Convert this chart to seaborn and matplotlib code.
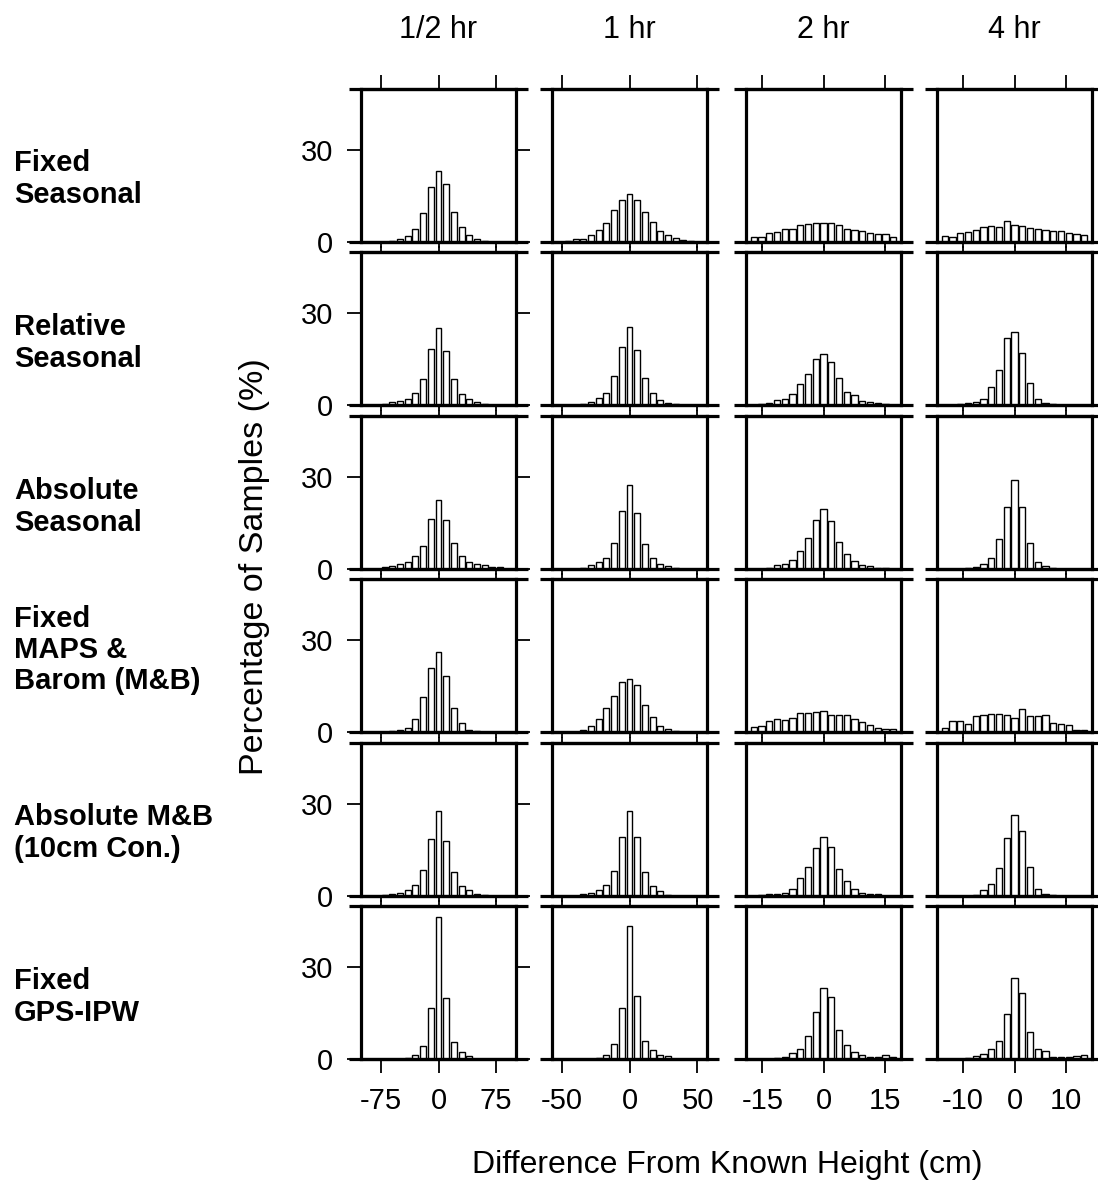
import numpy as np
import matplotlib
matplotlib.use("Agg")
import matplotlib.pyplot as plt
import seaborn as sns

# ---- panel labels -------------------------------------------------------
intervals = ["1/2 hr", "1 hr", "2 hr", "4 hr"]
methods = ["Fixed\nSeasonal", "Relative\nSeasonal", "Absolute\nSeasonal",
           "Fixed\nMAPS &\nBarom (M&B)", "Absolute M&B\n(10cm Con.)",
           "Fixed\nGPS-IPW"]

# ---- binning per averaging interval (cm) --------------------------------
bin_width = [10.0, 5.65, 1.9, 1.5]
x_half_range = [101, 57, 19, 15]
x_ticks = [[-75, 0, 75], [-50, 0, 50], [-15, 0, 15], [-10, 0, 10]]
bin_index = np.arange(-9, 10)
y_ticks = [0, 30]
y_max = 50

# ---- percentage of samples per bin (bins -9 .. +9) ----------------------
fixed_seasonal_05h = [0, 0, 0, 0.2, 0.9, 2.0, 4.1, 9.6, 18.0, 23.3, 19.1, 9.9, 4.9, 2.4, 1.1, 0.3, 0.1, 0, 0]
fixed_seasonal_1h = [0, 0.3, 0.9, 1.1, 2.2, 3.8, 6.3, 10.6, 13.8, 15.8, 13.8, 9.8, 6.5, 3.7, 2.2, 1.4, 0.8, 0.2, 0]
fixed_seasonal_2h = [1.5, 1.7, 2.8, 3.2, 4.4, 4.4, 5.7, 6.0, 6.2, 6.2, 6.2, 5.5, 4.4, 4.0, 3.7, 2.8, 2.5, 2.6, 1.7]
fixed_seasonal_4h = [2.0, 1.6, 2.9, 3.2, 3.8, 4.9, 5.1, 4.9, 6.9, 5.7, 5.3, 4.7, 4.4, 3.8, 3.5, 3.5, 2.9, 2.5, 2.2]

relative_seasonal_05h = [0, 0, 0.2, 0.9, 1.3, 2.1, 3.8, 8.5, 18.2, 25.3, 17.6, 8.4, 3.7, 1.9, 1.1, 0.3, 0, 0, 0]
relative_seasonal_1h = [0, 0, 0, 0.3, 0.9, 2.3, 3.8, 9.6, 19.0, 25.4, 18.0, 8.8, 3.8, 1.5, 0.8, 0.3, 0, 0, 0]
relative_seasonal_2h = [0, 0.4, 0.7, 1.5, 2.1, 3.5, 6.7, 10.0, 14.9, 16.6, 14.1, 8.9, 4.4, 3.2, 1.4, 0.9, 0.5, 0.2, 0]
relative_seasonal_4h = [0, 0, 0.3, 0.5, 0.9, 2.0, 5.9, 11.5, 21.8, 23.7, 17.1, 7.1, 2.0, 0.8, 0.2, 0, 0, 0, 0]

absolute_seasonal_05h = [0, 0, 0.5, 1.0, 1.6, 2.3, 4.3, 7.6, 16.3, 22.6, 16.1, 8.5, 4.2, 2.4, 1.5, 1.2, 0.8, 0.5, 0]
absolute_seasonal_1h = [0, 0, 0, 0.3, 1.3, 2.2, 3.6, 8.5, 18.9, 27.4, 18.3, 8.2, 3.6, 1.7, 0.9, 0.3, 0, 0, 0]
absolute_seasonal_2h = [0, 0, 0.4, 1.2, 1.6, 2.8, 5.8, 10.1, 16.1, 19.7, 15.7, 8.8, 5.0, 2.6, 1.4, 0.9, 0.3, 0.3, 0]
absolute_seasonal_4h = [0, 0, 0, 0.3, 0.8, 1.5, 3.7, 9.7, 20.1, 29.0, 20.4, 8.6, 2.3, 1.0, 0.3, 0, 0, 0, 0]

fixed_mb_05h = [0, 0, 0, 0.2, 0.5, 1.3, 4.3, 11.4, 20.9, 26.0, 18.4, 8.0, 2.9, 0.5, 0.3, 0, 0, 0, 0]
fixed_mb_1h = [0, 0, 0, 0.7, 1.8, 4.3, 8.0, 11.9, 16.2, 17.4, 15.3, 8.9, 4.9, 1.8, 0.9, 0.2, 0, 0, 0]
fixed_mb_2h = [1.6, 2.0, 3.6, 4.4, 3.8, 4.7, 6.3, 6.3, 6.5, 6.7, 5.7, 5.7, 5.5, 4.3, 3.4, 2.2, 1.4, 1.1, 1.0]
fixed_mb_4h = [1.4, 3.7, 3.7, 2.7, 5.2, 5.5, 6.0, 5.8, 5.5, 4.6, 7.4, 5.2, 5.1, 5.4, 3.1, 2.6, 2.3, 0.5, 0.7]

absolute_mb_05h = [0, 0, 0.3, 0.5, 1.0, 1.9, 3.6, 8.4, 18.5, 27.9, 18.1, 8.0, 3.4, 1.8, 0.8, 0.3, 0, 0, 0]
absolute_mb_1h = [0, 0, 0, 0.5, 1.0, 2.1, 3.6, 8.1, 19.2, 27.9, 19.2, 7.8, 3.4, 1.6, 0.3, 0, 0, 0, 0]
absolute_mb_2h = [0, 0.3, 0.6, 0.8, 1.1, 2.4, 5.8, 9.5, 15.6, 19.4, 16.0, 8.7, 4.9, 2.4, 1.1, 0.8, 0.5, 0, 0]
absolute_mb_4h = [0, 0, 0, 0, 0.4, 1.9, 3.8, 9.3, 18.8, 26.5, 21.2, 9.5, 2.2, 0.8, 0.3, 0, 0, 0, 0]

fixed_ipw_05h = [0, 0, 0, 0, 0, 0.3, 1.3, 4.1, 16.8, 46.3, 20.0, 5.7, 2.3, 1.1, 0, 0, 0, 0, 0]
fixed_ipw_1h = [0, 0, 0, 0, 0, 0.3, 1.4, 4.8, 16.8, 43.4, 20.5, 6.0, 2.8, 1.4, 0.9, 0, 0, 0, 0]
fixed_ipw_2h = [0, 0, 0, 0.3, 0.8, 2.1, 3.2, 7.4, 15.5, 23.1, 20.1, 9.5, 4.6, 2.4, 1.4, 0.8, 0.8, 1.4, 0.8]
fixed_ipw_4h = [0, 0, 0, 0.3, 0.9, 1.5, 3.2, 5.8, 14.8, 26.5, 21.5, 8.9, 3.3, 2.5, 0.8, 0.8, 0.8, 0.9, 1.2]

grid = [
    [fixed_seasonal_05h, fixed_seasonal_1h, fixed_seasonal_2h, fixed_seasonal_4h],
    [relative_seasonal_05h, relative_seasonal_1h, relative_seasonal_2h, relative_seasonal_4h],
    [absolute_seasonal_05h, absolute_seasonal_1h, absolute_seasonal_2h, absolute_seasonal_4h],
    [fixed_mb_05h, fixed_mb_1h, fixed_mb_2h, fixed_mb_4h],
    [absolute_mb_05h, absolute_mb_1h, absolute_mb_2h, absolute_mb_4h],
    [fixed_ipw_05h, fixed_ipw_1h, fixed_ipw_2h, fixed_ipw_4h],
]

# ---- style --------------------------------------------------------------
sns.set_theme(style="white")
plt.rcParams["font.family"] = ["Liberation Sans", "DejaVu Sans"]
plt.rcParams["axes.unicode_minus"] = False
for key in ("text.color", "axes.labelcolor", "xtick.color", "ytick.color",
            "axes.edgecolor"):
    plt.rcParams[key] = "black"

W_PX, H_PX = 1098, 1183
fig = plt.figure(figsize=(W_PX / 100, H_PX / 100), dpi=100)

col_left = [361, 552, 746, 937]
row_top = [89, 252, 416, 579, 743, 906]
panel_w, panel_h = 155, 153
label_y = [179, 343, 507, 650, 833, 997]

FS = 21
frame_lw = 2.3
ext = 12 / panel_w

for r in range(6):
    for c in range(4):
        L, T = col_left[c], row_top[r]
        ax = fig.add_axes([L / W_PX, 1 - (T + panel_h) / H_PX,
                           panel_w / W_PX, panel_h / H_PX])
        w = bin_width[c]
        centers = bin_index * w
        edges = np.append(centers - w / 2, centers[-1] + w / 2).tolist()
        sns.histplot(x=centers, weights=grid[r][c], bins=edges, shrink=0.78,
                     color="white", edgecolor="black", linewidth=1.0,
                     alpha=1, ax=ax)
        ax.set_xlim(-x_half_range[c], x_half_range[c])
        ax.set_ylim(0, y_max)
        ax.set_xlabel("")
        ax.set_ylabel("")
        ax.set_facecolor("white")
        for sp in ax.spines.values():
            sp.set_visible(True)
            sp.set_color("black")
            sp.set_linewidth(frame_lw)

        # frame lines running past the box into the gaps
        for yv in (0, 1):
            ax.plot([-ext, 1 + ext], [yv, yv], transform=ax.transAxes,
                    color="black", lw=frame_lw, clip_on=False,
                    solid_capstyle="butt")

        # x ticks on both edges of every panel
        ax.set_xticks(x_ticks[c])
        ax.set_xticklabels([str(v) for v in x_ticks[c]])
        bottom_len = 10 if r == 5 else 4.5
        ax.tick_params(axis="x", which="major", direction="out",
                       top=True, bottom=True, length=bottom_len, width=1.3,
                       color="black", labelcolor="black",
                       labelbottom=(r == 5), labeltop=False,
                       labelsize=FS, pad=10)
        for t in ax.xaxis.get_major_ticks():
            t.tick2line.set_markersize(10 if r == 0 else 4.5)

        # y ticks only on the first column
        ax.set_yticks(y_ticks)
        if c == 0:
            ax.set_yticklabels([str(v) for v in y_ticks])
            ax.tick_params(axis="y", which="major", direction="out",
                           left=True, right=True, length=10, width=1.3,
                           color="black", labelcolor="black",
                           labelleft=True, labelright=False,
                           labelsize=FS, pad=10)
        else:
            ax.tick_params(axis="y", left=False, right=False,
                           labelleft=False, labelright=False)
        ax.grid(False)

        if r == 0:
            fig.text((L + panel_w / 2) / W_PX, 1 - 30 / H_PX, intervals[c],
                     ha="center", va="center", fontsize=22, color="black")

    fig.text(14 / W_PX, 1 - label_y[r] / H_PX, methods[r], ha="left",
             va="center", fontsize=FS, fontweight="bold", linespacing=1.15,
             color="black")

fig.text(727 / W_PX, 1 - 1165 / H_PX, "Difference From Known Height (cm)",
         ha="center", va="center", fontsize=23, color="black")
fig.text(255 / W_PX, 1 - 567 / H_PX, "Percentage of Samples (%)",
         ha="center", va="center", rotation=90, fontsize=24.5, color="black")

fig.savefig("out.png", dpi=100, facecolor="white")
